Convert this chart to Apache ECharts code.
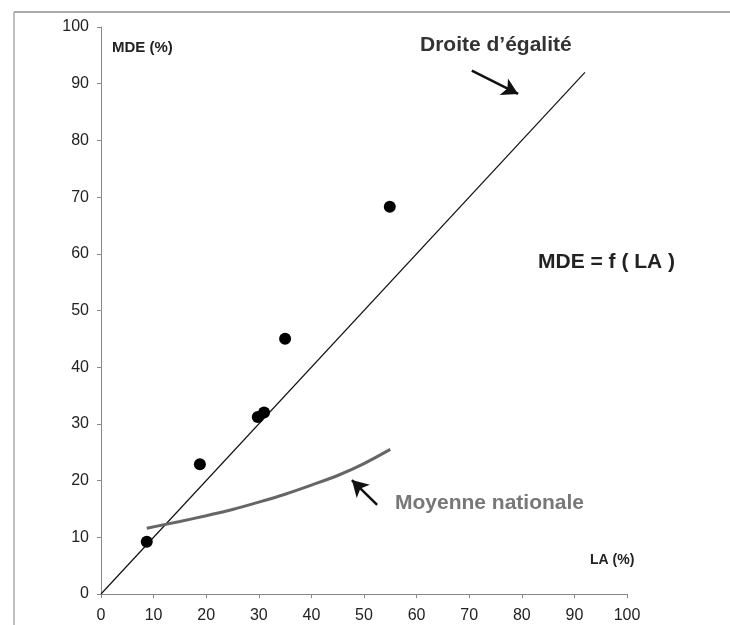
<!DOCTYPE html>
<html><head><meta charset="utf-8">
<script src="https://cdn.jsdelivr.net/npm/echarts@6/dist/echarts.min.js"></script>
<style>html,body{margin:0;padding:0;background:#fff}#c{width:730px;height:625px}</style>
</head><body><div id="c"></div>
<script>
var xTicks = [0,10,20,30,40,50,60,70,80,90,100];
var yTicks = [0,10,20,30,40,50,60,70,80,90,100];
var communesLA = [8.7, 18.8, 29.8, 31.0, 35.0, 54.9];
var communesMDE = [9.2, 22.9, 31.2, 32.0, 45.0, 68.3];
var equalityX = [0, 92];
var equalityY = [0, 92];
var nationalLA = [8.7, 15, 20, 25, 30, 35, 40, 45, 50, 55];
var nationalMDE = [11.6, 12.8, 13.8, 14.9, 16.2, 17.6, 19.2, 20.9, 23.0, 25.5];
var arrow1 = [[70.5, 92.3], [79.3, 88.2]];
var arrow2 = [[52.5, 15.7], [47.7, 20.1]];

var chart = echarts.init(document.getElementById('c'));
var font = 'Liberation Sans, Arial, sans-serif';
function zip(a,b){return a.map(function(v,i){return [v,b[i]];});}
chart.setOption({
  animation:false,
  backgroundColor:'#fff',
  grid:{left:101,right:103,top:27,bottom:31,containLabel:false},
  xAxis:{type:'value',min:0,max:100,interval:10,
    axisLine:{show:true,onZero:false,lineStyle:{color:'#888',width:1}},
    axisTick:{show:true,length:4,lineStyle:{color:'#888'}},
    axisLabel:{color:'#222',fontSize:16,fontFamily:font,margin:14},
    splitLine:{show:false}},
  yAxis:{type:'value',min:0,max:100,interval:10,
    axisLine:{show:true,onZero:false,lineStyle:{color:'#888',width:1}},
    axisTick:{show:true,length:4,lineStyle:{color:'#888'}},
    axisLabel:{color:'#222',fontSize:16,fontFamily:font,margin:12},
    splitLine:{show:false}},
  series:[
    {type:'line',data:zip(equalityX,equalityY),symbol:'none',
     lineStyle:{color:'#111',width:1.2},z:2,
     markLine:{silent:true,symbol:['none','arrow'],symbolSize:[14,16],
       label:{show:false},
       lineStyle:{color:'#111',width:2.5,type:'solid'},
       data:[[{coord:arrow1[0]},{coord:arrow1[1]}],[{coord:arrow2[0]},{coord:arrow2[1]}]]}},
    {type:'line',data:zip(nationalLA,nationalMDE),symbol:'none',smooth:0.3,
     lineStyle:{color:'#666',width:3},z:3},
    {type:'scatter',data:zip(communesLA,communesMDE),symbol:'circle',symbolSize:12,
     itemStyle:{color:'#000',opacity:1},z:4}
  ],
  graphic:[
    {type:'line',shape:{x1:14,y1:12,x2:730,y2:12},style:{stroke:'#aaa',lineWidth:2}},
    {type:'line',shape:{x1:14,y1:12,x2:14,y2:625},style:{stroke:'#aaa',lineWidth:1.5}},
    {type:'text',left:112,top:40,style:{text:'MDE (%)',font:'bold 15px '+font,fill:'#222'}},
    {type:'text',left:590,top:553,style:{text:'LA (%)',font:'bold 14px '+font,fill:'#222'}},
    {type:'text',left:420,top:35,style:{text:'Droite d\u2019égalité',font:'bold 21px '+font,fill:'#333'}},
    {type:'text',left:538,top:252,style:{text:'MDE = f ( LA )',font:'bold 21px '+font,fill:'#222'}},
    {type:'text',left:395,top:493,style:{text:'Moyenne nationale',font:'bold 21px '+font,fill:'#777'}}
  ]
});
</script></body></html>
